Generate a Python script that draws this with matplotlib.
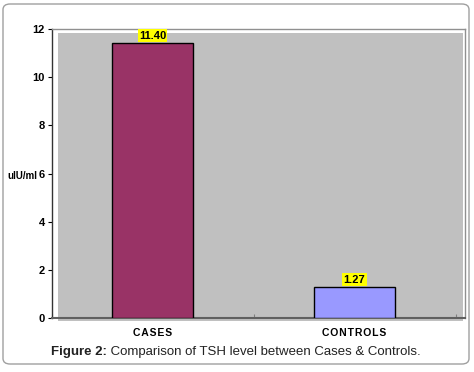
import matplotlib.pyplot as plt
from matplotlib.patches import FancyBboxPatch, Rectangle

plt.rcParams['font.family'] = ['Liberation Sans', 'DejaVu Sans']

groups = ["CASES", "CONTROLS"]
tsh = [11.40, 1.27]
bar_colors = ["#993366", "#9999FF"]
yticks = [0, 2, 4, 6, 8, 10, 12]

W, H = 474, 372
fig = plt.figure(figsize=(W / 100, H / 100), dpi=100)

# rounded outer frame
frame = FancyBboxPatch((3 / W, 8 / H), 466 / W, 360 / H,
                       boxstyle="round,pad=0,rounding_size=0.015",
                       transform=fig.transFigure, fill=False,
                       edgecolor="#A0A0A0", linewidth=1.0)
fig.patches.append(frame)

aw, ah = 413, 289
ax = fig.add_axes([52 / W, (H - 318) / H, aw / W, ah / H])
ax.set_facecolor("white")
# grey plot wall, slightly inset like the original
ax.add_patch(Rectangle((6 / aw, -3 / ah), 405 / aw, 288 / ah, transform=ax.transAxes,
                       facecolor="#C0C0C0", edgecolor="none", clip_on=False, zorder=0))

x = range(len(groups))
ax.bar(x, tsh, width=0.4, color=bar_colors, edgecolor="black", linewidth=1.0, zorder=3)
for i, v in enumerate(tsh):
    ax.text(i, v + 0.12, "%.2f" % v, ha="center", va="bottom", fontsize=8,
            fontweight="bold", zorder=4,
            bbox=dict(boxstyle="square,pad=0.12", facecolor="#FFFF00", edgecolor="none"))

ax.set_xlim(-0.4975, 1.547)
ax.set_ylim(0, 12)
ax.set_yticks(yticks)
ax.set_yticklabels([str(t) for t in yticks], fontsize=8, fontweight="bold")
ax.set_xticks([-0.4975, 0.5, 1.5])
ax.set_xticklabels([])
ax.tick_params(axis="y", length=3, width=0.8, pad=2)
ax.tick_params(axis="x", length=3, width=0.8, direction="in", colors="#808080")

for i, g in enumerate(groups):
    ax.text(i, -0.4, " ".join(g).replace(" ", "\u200a"), ha="center", va="top",
            fontsize=7.5, fontweight="bold")

ax.spines["left"].set_color("#333333")
ax.spines["left"].set_linewidth(1.0)
ax.spines["bottom"].set_color("#606060")
ax.spines["bottom"].set_linewidth(1.5)
ax.spines["top"].set_color("#909090")
ax.spines["top"].set_linewidth(1.0)
ax.spines["right"].set_color("#909090")
ax.spines["right"].set_linewidth(1.0)

fig.text(7 / W, 1 - 176 / H, "uIU/ml", fontsize=7, fontweight="bold", va="center", ha="left")

# caption: bold "Figure 2:" followed by plain text, centred as a whole
r = fig.canvas.get_renderer()
cy = 1 - 352 / H
t1 = fig.text(0, cy, "Figure 2:", fontsize=9.5, fontweight="bold", ha="left", va="center",
              color="#222222")
t2 = fig.text(0, cy, " Comparison of TSH level between Cases & Controls.", fontsize=9.5,
              ha="left", va="center", color="#222222")
w1 = t1.get_window_extent(r).width
w2 = t2.get_window_extent(r).width
x0 = 236 - (w1 + w2) / 2
t1.set_x(x0 / W)
t2.set_x((x0 + w1) / W)

fig.savefig("out.png", dpi=100)
